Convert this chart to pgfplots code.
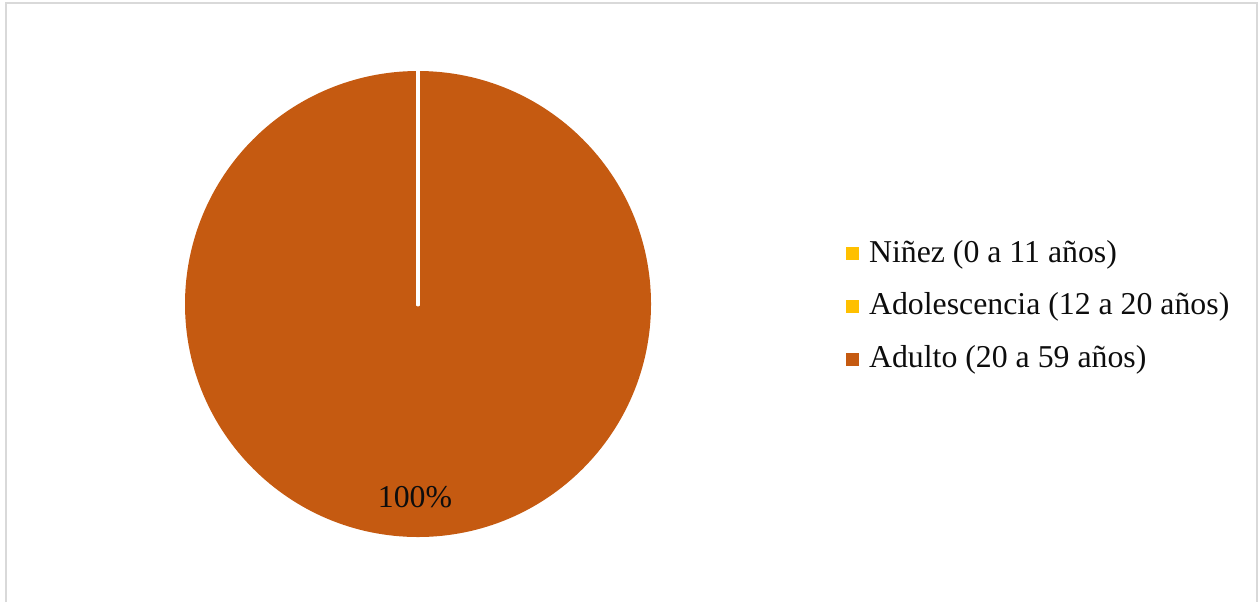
\documentclass[border=0pt]{standalone}
\usepackage{pgfplots}
\pgfplotsset{compat=1.18}
\usepackage{pgfplotstable}
\usepackage{fontspec}
\setmainfont{Liberation Serif}
\definecolor{cNinez}{HTML}{FFC000}
\definecolor{cAdol}{HTML}{FFC000}
\definecolor{cAdulto}{HTML}{C55A11}
\definecolor{cframe}{HTML}{D9D9D9}
\definecolor{ctext}{HTML}{0D0D0D}

\pgfplotstableread{
label value
Ninez 0
Adolescencia 0
Adulto 100
}\piedata

\pgfplotstablegetelem{0}{value}\of\piedata \let\vA\pgfplotsretval
\pgfplotstablegetelem{1}{value}\of\piedata \let\vB\pgfplotsretval
\pgfplotstablegetelem{2}{value}\of\piedata \let\vC\pgfplotsretval
\pgfmathsetmacro{\aS}{90}
\pgfmathsetmacro{\aA}{90-3.6*\vA}
\pgfmathsetmacro{\aB}{\aA-3.6*\vB}
\pgfmathsetmacro{\aC}{\aB-3.6*\vC}
\newcommand{\R}{116.5pt}

\begin{document}
\fontsize{15.9}{19}\selectfont
\begin{tikzpicture}[x=1pt,y=1pt]
\useasboundingbox (0,0) rectangle (629,301);
\draw[cframe, line width=1pt] (2.75,0) -- (2.75,299.75) -- (628.5,299.75) -- (628.5,0);
\begin{axis}[
  at={(209pt,149pt)}, anchor=origin,
  x=116.5pt, y=116.5pt,
  xmin=-1, xmax=1, ymin=-1, ymax=1,
  hide axis, clip=false,
  legend cell align=left,
  legend style={draw=none, fill=none, inner sep=0pt, outer sep=0pt,
    at={(axis cs:1.838,-0.01)}, anchor=west,
    nodes={inner sep=0pt, text=ctext, font=\fontsize{15.9}{19}\selectfont},
    column sep=5pt, row sep=13pt},
]
% slices
\fill[cNinez] (axis cs:0,0) -- ++(\aS:\R) arc[start angle=\aS, end angle=\aA, radius=\R] -- cycle;
\fill[cAdol] (axis cs:0,0) -- ++(\aA:\R) arc[start angle=\aA, end angle=\aB, radius=\R] -- cycle;
\fill[cAdulto] (axis cs:0,0) -- ++(\aB:\R) arc[start angle=\aB, end angle=\aC, radius=\R] -- cycle;
% slice borders
\draw[white, line width=2.3pt, line cap=round] (axis cs:0,0) -- ++(\aS:\R);
\draw[white, line width=2.3pt, line cap=round] (axis cs:0,0) -- ++(\aA:\R);
\draw[white, line width=2.3pt, line cap=round] (axis cs:0,0) -- ++(\aB:\R);
% data label
\node[text=ctext, font=\fontsize{15.9}{19}\selectfont] at (axis cs:-0.013,-0.828) {\pgfmathprintnumber[fixed,precision=0,assume math mode=true]{\vC}\%};
% legend
\addlegendimage{legend image code/.code={\fill[cNinez] (0pt,-3pt) rectangle (6pt,3pt);}}
\addlegendentry{Niñez (0 a 11 años)}
\addlegendimage{legend image code/.code={\fill[cAdol] (0pt,-3pt) rectangle (6pt,3pt);}}
\addlegendentry{Adolescencia (12 a 20 años)}
\addlegendimage{legend image code/.code={\fill[cAdulto] (0pt,-3pt) rectangle (6pt,3pt);}}
\addlegendentry{Adulto (20 a 59 años)}
\end{axis}
\end{tikzpicture}
\end{document}
